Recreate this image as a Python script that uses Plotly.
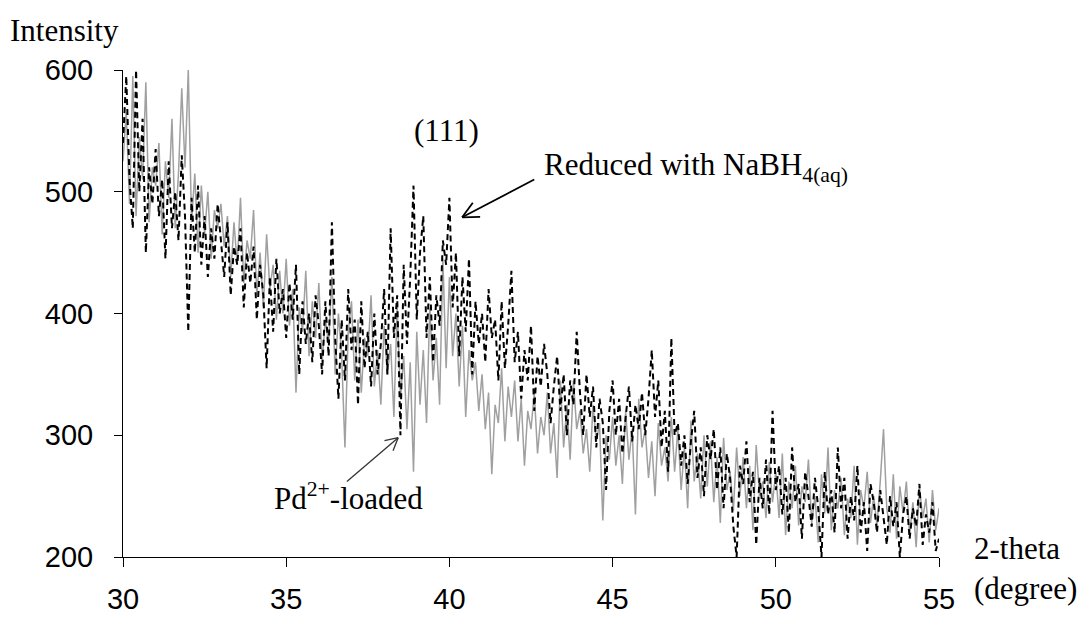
import math
import plotly.graph_objects as go

# 2-theta positions (degree), step 0.1
theta = [round(30 + 0.1 * i, 1) for i in range(251)]

# Pd2+-loaded (grey solid)
pd_loaded = [
    525, 565, 490, 595, 480, 545, 510, 590, 475, 520,
    505, 540, 465, 525, 495, 560, 470, 515, 585, 520,
    600, 475, 515, 450, 505, 465, 500, 445, 485, 470,
    490, 455, 480, 430, 475, 440, 495, 425, 460, 445,
    485, 415, 450, 405, 465, 420, 440, 395, 435, 400,
    445, 390, 420, 335, 405, 385, 435, 365, 410, 380,
    425, 360, 395, 375, 430, 350, 400, 365, 290, 385,
    410, 345, 395, 335, 380, 365, 415, 340, 370, 325,
    390, 350, 375, 315, 405, 330, 365, 305, 360, 270,
    385, 325, 370, 310, 405, 345, 380, 325, 445, 355,
    430, 365, 400, 340, 390, 315, 370, 345, 360, 320,
    350, 305, 335, 268, 325, 310, 355, 295, 340, 315,
    345, 295, 330, 275, 320, 305, 335, 285, 315, 300,
    335, 285, 310, 265, 345, 290, 325, 280, 345, 305,
    320, 285, 305, 270, 325, 295, 310, 230, 300, 280,
    315, 275, 300, 260, 320, 280, 305, 235, 330, 290,
    305, 265, 295, 250, 310, 275, 290, 262, 315, 270,
    305, 255, 290, 240, 312, 262, 285, 248, 300, 258,
    295, 245, 282, 228, 298, 255, 270, 238, 290, 250,
    282, 240, 275, 222, 292, 250, 262, 232, 278, 245,
    270, 232, 285, 218, 262, 240, 275, 226, 258, 245,
    280, 228, 250, 212, 268, 236, 290, 222, 255, 240,
    265, 218, 248, 232, 275, 210, 255, 240, 270, 228,
    250, 226, 262, 305, 240, 220, 268, 215, 258, 236,
    262, 218, 245, 208, 258, 232, 248, 212, 255, 222,
    240,
]

# Reduced with NaBH4(aq) (black dashed)
reduced = [
    540, 595, 510, 470, 600, 500, 560, 450, 520, 490,
    535, 480, 510, 445, 525, 470, 500, 460, 530, 480,
    385, 495, 450, 505, 440, 480, 430, 470, 445, 490,
    460, 430, 475, 415, 455, 440, 470, 405, 450, 425,
    455, 395, 440, 415, 355, 430, 385, 445, 400, 420,
    380, 425, 395, 440, 350, 410, 375, 400, 360, 415,
    390, 350, 410, 365, 475, 380, 330, 395, 345, 420,
    370, 395, 325, 410, 355, 385, 340, 400, 350, 375,
    420, 350, 470, 380, 415, 300, 440, 375, 430, 505,
    395, 450, 480, 380, 430, 360, 415, 390, 460, 440,
    495, 405, 450, 365, 430, 385, 445, 350, 410, 375,
    400, 360, 420, 380, 395, 345, 410, 355, 390, 435,
    360, 385, 330, 370, 345, 390, 320, 365, 340, 375,
    350, 310, 340, 365, 320, 350, 300, 345, 325, 385,
    335, 300, 350, 315, 340, 290, 330, 310, 255, 320,
    345, 300, 330, 285, 315, 340, 295, 325, 305, 335,
    300, 330, 370, 315, 345, 290, 320, 270, 380, 300,
    310, 275, 300, 260, 295, 320, 265, 290, 250, 300,
    280, 305, 255, 290, 240, 285, 265, 225, 200, 275,
    260, 295, 245, 270, 210, 265, 240, 280, 235, 320,
    255, 275, 235, 265, 220, 290, 245, 260, 215, 270,
    250, 225, 265, 240, 200, 270, 235, 255, 220, 290,
    240, 265, 215, 250, 230, 275, 220, 245, 205, 260,
    245, 220, 255, 230, 210, 250, 225, 245, 200, 235,
    250, 215, 240, 225, 260, 210, 235, 220, 245, 205,
    215,
]

x_ticks = [30, 35, 40, 45, 50, 55]
y_ticks = [200, 300, 400, 500, 600]

serif = "Liberation Serif, Times New Roman, serif"
sans = "Liberation Sans, Arial, sans-serif"

X_RANGE = [30, 55]
Y_RANGE = [200, 600]
PLOT_W, PLOT_H = 816, 487
PX_X = PLOT_W / (X_RANGE[1] - X_RANGE[0])
PX_Y = PLOT_H / (Y_RANGE[1] - Y_RANGE[0])

fig = go.Figure()
fig.add_trace(go.Scatter(x=theta, y=pd_loaded, mode="lines",
                         line=dict(color="#a0a0a0", width=1.5),
                         name="Pd2+-loaded", showlegend=False))
fig.add_trace(go.Scatter(x=theta, y=reduced, mode="lines",
                         line=dict(color="black", width=2, dash="6px,4px"),
                         name="Reduced", showlegend=False))

ann_font = dict(family=serif, size=31, color="black")
fig.add_annotation(x=39.9, y=550, text="(111)", showarrow=False, font=ann_font,
                   xanchor="center", yanchor="middle")
fig.add_annotation(x=42.84, y=520, text="Reduced with NaBH<sub>4(aq)</sub>",
                   showarrow=False, xanchor="left", yanchor="middle", font=ann_font)
fig.add_annotation(x=34.56, y=250, text="Pd<sup>2+</sup>-loaded",
                   showarrow=False, xanchor="left", yanchor="middle", font=ann_font)


def open_arrow(tail, tip, color, width, head=14, angle=28):
    """Straight arrow with an open V head, drawn as line shapes."""
    fig.add_shape(type="line", x0=tail[0], y0=tail[1], x1=tip[0], y1=tip[1],
                  line=dict(color=color, width=width))
    dxp = (tip[0] - tail[0]) * PX_X
    dyp = (tip[1] - tail[1]) * PX_Y
    ang = math.atan2(dyp, dxp)
    for s in (-1, 1):
        a = ang + math.pi + s * math.radians(angle)
        hx = tip[0] + head * math.cos(a) / PX_X
        hy = tip[1] + head * math.sin(a) / PX_Y
        fig.add_shape(type="line", x0=tip[0], y0=tip[1], x1=hx, y1=hy,
                      line=dict(color=color, width=width))


open_arrow((42.6, 510), (40.39, 479), "black", 1.8, head=18, angle=26)
open_arrow((36.86, 262), (38.43, 298), "#333333", 1.3, head=14, angle=28)

# axis titles
fig.add_annotation(xref="paper", yref="paper", x=-0.0723, y=1.082,
                   text="Intensity", showarrow=False, font=ann_font,
                   xanchor="center", yanchor="middle")
fig.add_annotation(xref="paper", yref="paper", x=1.04, y=-0.0226,
                   text="2-theta<br>(degree)", showarrow=False, xanchor="left",
                   yanchor="middle", align="left", font=ann_font)

fig.update_xaxes(range=X_RANGE, tickvals=x_ticks, ticks="outside", ticklen=9,
                 tickcolor="black", showline=True, linecolor="black", linewidth=1,
                 showgrid=False, zeroline=False, ticklabelstandoff=7,
                 automargin=False,
                 tickfont=dict(family=sans, size=29, color="black"))
fig.update_yaxes(range=Y_RANGE, tickvals=y_ticks, ticks="outside", ticklen=8,
                 tickcolor="black", showline=True, linecolor="black", linewidth=1,
                 showgrid=False, zeroline=False, ticklabelstandoff=15,
                 automargin=False,
                 tickfont=dict(family=sans, size=29, color="black"))

# page body has an 8px default margin, so the figure is 8px smaller
fig.update_layout(width=1081, height=610,
                  margin=dict(l=115, r=150, t=62, b=61),
                  plot_bgcolor="white", paper_bgcolor="white")

fig.write_html("out.html")
